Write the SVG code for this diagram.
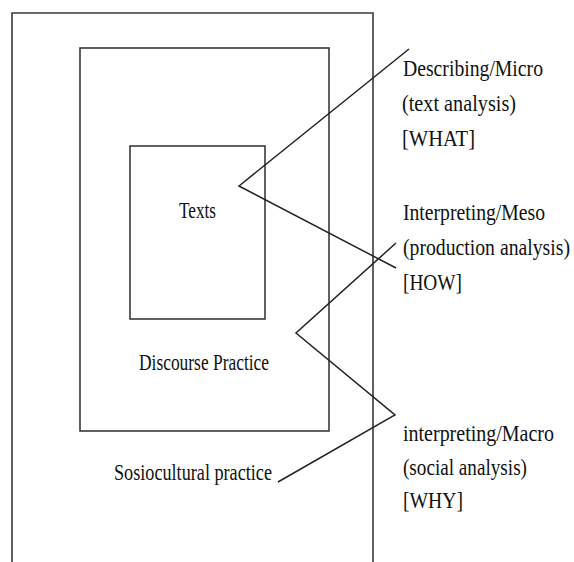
<svg xmlns="http://www.w3.org/2000/svg" width="574" height="562" viewBox="0 0 574 562">
<style>
.box{fill:none;stroke:#3a3a3a;stroke-width:1.6}
.ln{fill:none;stroke:#222;stroke-width:1.5}
text{font-family:"Liberation Serif","Times New Roman",serif;font-size:24px;fill:#111}
</style>
<rect width="574" height="562" fill="#fff"/>
<g id="sociocultural">
<path class="box" d="M12,570 V13 H373 V570"/>
<text x="114" y="480" textLength="158" lengthAdjust="spacingAndGlyphs">Sosiocultural practice</text>
</g>
<g id="discourse">
<rect class="box" x="80" y="48" width="249" height="383"/>
<text x="139" y="370" textLength="130" lengthAdjust="spacingAndGlyphs">Discourse Practice</text>
</g>
<g id="texts">
<rect class="box" x="130" y="146" width="135" height="173"/>
<text x="179" y="218" textLength="37" lengthAdjust="spacingAndGlyphs">Texts</text>
</g>
<g id="connectors">
<polyline class="ln" points="409,49 239,186 396,268"/>
<polyline class="ln" points="396,243 296,333 395,415 278,482"/>
</g>
<g id="micro" transform="scale(0.8,1)">
<text x="503.75" y="76" textLength="175" lengthAdjust="spacingAndGlyphs">Describing/Micro</text>
<text x="502.5" y="111" textLength="142.5" lengthAdjust="spacingAndGlyphs">(text analysis)</text>
<text x="502.5" y="146" textLength="91.25" lengthAdjust="spacingAndGlyphs">[WHAT]</text>
</g>
<g id="meso" transform="scale(0.8,1)">
<text x="503.75" y="220" textLength="177.5" lengthAdjust="spacingAndGlyphs">Interpreting/Meso</text>
<text x="503.75" y="255" textLength="208.75" lengthAdjust="spacingAndGlyphs">(production analysis)</text>
<text x="503.75" y="290" textLength="73.75" lengthAdjust="spacingAndGlyphs">[HOW]</text>
</g>
<g id="macro" transform="scale(0.8,1)">
<text x="503.75" y="441" textLength="188.75" lengthAdjust="spacingAndGlyphs">interpreting/Macro</text>
<text x="503.75" y="475" textLength="155" lengthAdjust="spacingAndGlyphs">(social analysis)</text>
<text x="503.75" y="508" textLength="75" lengthAdjust="spacingAndGlyphs">[WHY]</text>
</g>
</svg>
